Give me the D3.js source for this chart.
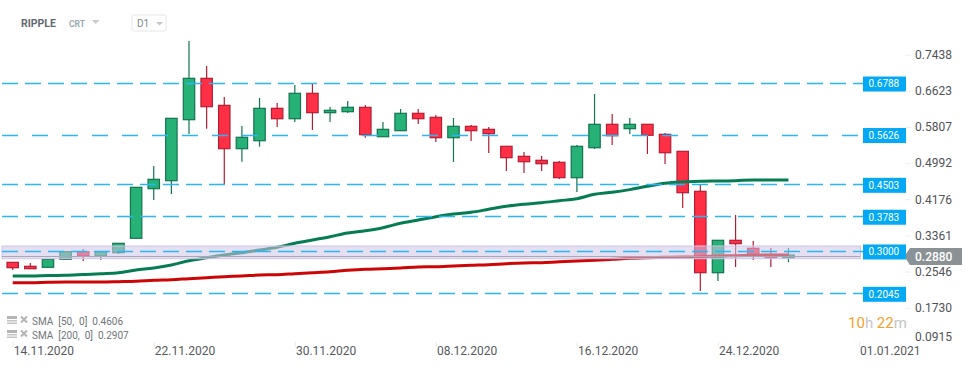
<!DOCTYPE html>
<html>
<head>
<meta charset="utf-8">
<script src="https://cdn.jsdelivr.net/npm/d3@7"></script>
<style>
	html, body { margin: 0; padding: 0; background: #fff; }
	svg { display: block; font-family: Roboto, sans-serif; }
</style>
</head>
<body>
<div id="vis"></div>
<script>
// daily candles, first one is 14.11.2020
const firstDay = new Date(2020, 10, 14);
const opens = [.2755,.2665,.2643,.2823,.2995,.2898,.2972,.3297,.4416,.4596,.5972,.6905,.6296,.5318,.5498,.6229,.5994,.6567,.6130,.6152,.6251,.5588,.5724,.6116,.6026,.5566,.5823,.5755,.5372,.5146,.5056,.5011,.4664,.5340,.5868,.5769,.5868,.5642,.5259,.4357,.2521,.3252,.3071,.2920,.2853];
const closes = [.2634,.2611,.2823,.2995,.2898,.2995,.3184,.4447,.4627,.6003,.6905,.6265,.5318,.5575,.6229,.5994,.6567,.6130,.6184,.6251,.5633,.5755,.6116,.5994,.5566,.5823,.5724,.5656,.5115,.5024,.4979,.4664,.5372,.5868,.5611,.5868,.5620,.5227,.4325,.2521,.3252,.3175,.2920,.2853,.2920];
const highs = [.2755,.2740,.2823,.2995,.3056,.2995,.3184,.4447,.4927,.6003,.7747,.7183,.6484,.5830,.6461,.6348,.6754,.6777,.6258,.6393,.6303,.5920,.6213,.6213,.6078,.6010,.5852,.5807,.5372,.5243,.5153,.5040,.5401,.6551,.6100,.6010,.5868,.5672,.5259,.4521,.3252,.3822,.3236,.3078,.3078];
const lows = [.2582,.2611,.2643,.2823,.2785,.2807,.2943,.3297,.4161,.4296,.5649,.5769,.4521,.5024,.5363,.5807,.5920,.5739,.5920,.6123,.5566,.5588,.5724,.5875,.5469,.5018,.5491,.5221,.4815,.4770,.4815,.4634,.4341,.5311,.5401,.5649,.5198,.4973,.3980,.2108,.2334,.2650,.2807,.2650,.2762];
const sma50 = [.2447,.2447,.2458,.2462,.2480,.2499,.2521,.2582,.2627,.2695,.2792,.2859,.2920,.2972,.3033,.3094,.3184,.3259,.3333,.3416,.3468,.3536,.3635,.3710,.3784,.3845,.3883,.3951,.4018,.4064,.4100,.4145,.4190,.4289,.4334,.4395,.4470,.4537,.4567,.4582,.4589,.4596,.4612,.4612,.4612];
const sma200 = [.2296,.2296,.2305,.2311,.2311,.2311,.2318,.2327,.2350,.2363,.2386,.2408,.2431,.2447,.2469,.2476,.2499,.2521,.2544,.2575,.2598,.2611,.2627,.2650,.2656,.2672,.2688,.2702,.2724,.2740,.2747,.2769,.2785,.2801,.2823,.2846,.2859,.2868,.2875,.2882,.2898,.2904,.2913,.2920,.2920];

// horizontal levels drawn on the chart, dash gap differs on 0.5626
const levels = [0.6788, 0.5626, 0.4503, 0.3783, 0.3000, 0.2045];
const levelGaps = [7, 14, 7, 7, 7, 7];
const band = [0.3123, 0.2837];
const lastPrice = 0.2880;

const yTicks = [0.7438, 0.6623, 0.5807, 0.4992, 0.4176, 0.3361, 0.2546, 0.1730, 0.0915];
const xTicks = [new Date(2020, 10, 14), new Date(2020, 10, 22), new Date(2020, 10, 30), new Date(2020, 11, 8), new Date(2020, 11, 16), new Date(2020, 11, 24), new Date(2021, 0, 1)];
const legendLabels = ["SMA  [50,  0]  0.4606", "SMA  [200,  0]  0.2907"];

const width = 974, height = 368;
const up = { fill: "#26b276", stroke: "#11744f" };
const down = { fill: "#ff3045", stroke: "#b31d33" };

const candles = opens.map((o, i) => ({
	date: d3.timeDay.offset(firstDay, i),
	open: o, close: closes[i], high: highs[i], low: lows[i]
}));

const svg = d3.select("#vis").append("svg")
	.attr("width", width)
	.attr("height", height);

const x = d3.scaleTime()
	.domain([firstDay, new Date(2021, 0, 1)])
	.range([12.7, 859]);
const y = d3.scaleLinear()
	.domain([0.7438, 0.0915])
	.range([54.7, 343.9]);

// wicks
svg.append("g").selectAll("line")
	.data(candles)
	.enter().append("line")
	.attr("x1", d => x(d.date))
	.attr("x2", d => x(d.date))
	.attr("y1", d => y(d.high))
	.attr("y2", d => y(d.low))
	.attr("stroke", d => d.close >= d.open ? up.stroke : down.stroke)
	.attr("stroke-width", 1.2);

// bodies
svg.append("g").selectAll("rect")
	.data(candles)
	.enter().append("rect")
	.attr("x", d => x(d.date) - 5.7)
	.attr("width", 11.4)
	.attr("y", d => y(Math.max(d.open, d.close)))
	.attr("height", d => Math.abs(y(d.open) - y(d.close)))
	.attr("fill", d => d.close >= d.open ? up.fill : down.fill)
	.attr("stroke", d => d.close >= d.open ? up.stroke : down.stroke)
	.attr("stroke-width", 1.2);

// moving averages
const smaLine = d3.line()
	.x((d, i) => x(d3.timeDay.offset(firstDay, i)))
	.y(d => y(d))
	.curve(d3.curveMonotoneX);
svg.append("path").attr("d", smaLine(sma50))
	.attr("fill", "none").attr("stroke", "#067c53").attr("stroke-width", 3);
svg.append("path").attr("d", smaLine(sma200))
	.attr("fill", "none").attr("stroke", "#cc0606").attr("stroke-width", 3);

// purple zone over the candles
svg.append("rect")
	.attr("x", 2)
	.attr("width", 858.5)
	.attr("y", y(band[0]))
	.attr("height", y(band[1]) - y(band[0]))
	.attr("fill", "#cfc5e8")
	.attr("fill-opacity", 0.55)
	.attr("stroke", "#cfc5e6")
	.attr("stroke-width", 1);

svg.append("line")
	.attr("x1", 2).attr("x2", 860)
	.attr("y1", Math.floor(y(lastPrice)) + 0.5).attr("y2", Math.floor(y(lastPrice)) + 0.5)
	.attr("stroke", "#aaa6b8")
	.attr("stroke-width", 1);

// levels and their boxes
const levelG = svg.append("g").selectAll("g")
	.data(levels)
	.enter().append("g");
levelG.append("line")
	.attr("x1", 2).attr("x2", 863)
	.attr("y1", d => Math.floor(y(d)) + 0.5).attr("y2", d => Math.floor(y(d)) + 0.5)
	.attr("stroke", "#29b6f6")
	.attr("stroke-width", 1.4)
	.attr("stroke-dasharray", (d, i) => "16 " + levelGaps[i]);
levelG.append("rect")
	.attr("x", 863).attr("width", 43)
	.attr("y", d => y(d) - 7).attr("height", 15)
	.attr("fill", "#03a9f4");
levelG.append("text")
	.attr("x", 868.5)
	.attr("y", d => y(d) + 3.8)
	.attr("fill", "#fff")
	.attr("font-size", 10)
	.text(d => d.toFixed(4));

// y axis
const yAxis = svg.append("g")
	.attr("transform", "translate(905,0)")
	.call(d3.axisRight(y).tickValues(yTicks).tickFormat(d3.format(".4f")).tickSize(6).tickPadding(4));
yAxis.select(".domain").remove();
yAxis.selectAll("line").attr("stroke", "#eeeeee");
yAxis.selectAll("text")
	.attr("fill", "#4f5356")
	.attr("font-size", 12)
	.attr("font-family", "Roboto, sans-serif");
// bottom label sits above its tick
yAxis.selectAll(".tick")
	.filter(d => d === 0.0915)
	.call(t => t.select("line").remove())
	.select("text").attr("dy", "-0.25em");

// x axis, labels start at the tick
const xAxis = svg.append("g")
	.attr("transform", "translate(0,342)")
	.call(d3.axisBottom(x).tickValues(xTicks).tickFormat(d3.timeFormat("%d.%m.%Y")).tickSize(5).tickPadding(1));
xAxis.select(".domain").remove();
xAxis.selectAll("line").attr("stroke", "#e9e9e9");
xAxis.selectAll("text")
	.attr("text-anchor", "start")
	.attr("x", 0.6)
	.attr("y", 13)
	.attr("dy", 0)
	.attr("fill", "#55595c")
	.attr("font-size", 12)
	.attr("font-family", "Roboto, sans-serif");

// current price tag
svg.append("path")
	.attr("d", d3.line()([[910, 248], [962, 248], [962, 265], [910, 265], [906, 259], [906, 254]]) + "Z")
	.attr("fill", "#8a9295");
svg.append("text")
	.attr("x", 915).attr("y", 261)
	.attr("fill", "#fff")
	.attr("font-size", 12)
	.attr("font-weight", 500)
	.text(lastPrice.toFixed(4));

// header
svg.append("text").attr("x", 21).attr("y", 27)
	.attr("fill", "#5f6a70").attr("font-size", 10.5).attr("font-weight", 700)
	.text("RIPPLE");
svg.append("text").attr("x", 69).attr("y", 27)
	.attr("fill", "#9babb5").attr("font-size", 8.5).attr("font-weight", 700)
	.text("CRT");
svg.append("path").attr("d", "M92,20L99.5,20L95.7,24Z").attr("fill", "#c9c9c9");
svg.append("rect")
	.attr("x", 132).attr("y", 15).attr("width", 34).attr("height", 16).attr("rx", 2)
	.attr("fill", "#fff").attr("stroke", "#e6e6e6");
svg.append("text").attr("x", 137).attr("y", 27)
	.attr("fill", "#80878b").attr("font-size", 10)
	.text("D1");
svg.append("path").attr("d", "M156,22L163,22L159.5,25.5Z").attr("fill", "#c4c4c4");

// legend
const legend = svg.append("g").selectAll("g")
	.data(legendLabels)
	.enter().append("g")
	.attr("transform", (d, i) => "translate(0," + (i * 14) + ")");
legend.append("rect").attr("x", 7).attr("y", 316).attr("width", 10).attr("height", 3).attr("fill", "#b4b4b4");
legend.append("rect").attr("x", 7).attr("y", 320).attr("width", 10).attr("height", 1.5).attr("fill", "#c4c4c4");
legend.append("rect").attr("x", 7).attr("y", 322.5).attr("width", 10).attr("height", 1.5).attr("fill", "#c4c4c4");
legend.append("path")
	.attr("d", "M21,316.5L27,322.5M27,316.5L21,322.5")
	.attr("stroke", "#b4b4b4").attr("stroke-width", 2);
legend.append("text")
	.attr("x", 32).attr("y", 325)
	.attr("fill", "#6f7578")
	.attr("font-size", 10)
	.style("white-space", "pre")
	.text(d => d);

// session countdown
const timer = svg.append("text")
	.attr("x", 848).attr("y", 328)
	.attr("font-size", 15);
timer.append("tspan").attr("fill", "#f7a02b").text("10");
timer.append("tspan").attr("fill", "#c4c4c4").text("h ");
timer.append("tspan").attr("fill", "#f7a02b").text("22");
timer.append("tspan").attr("fill", "#c4c4c4").text("m");
</script>
</body>
</html>
